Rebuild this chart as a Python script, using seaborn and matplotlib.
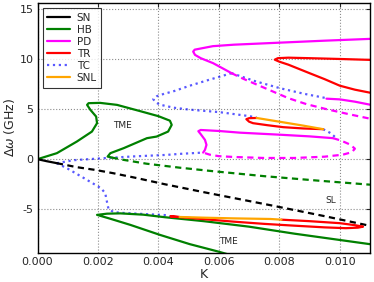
import numpy as np
import matplotlib
matplotlib.use("Agg")
import matplotlib.pyplot as plt
import seaborn as sns
from matplotlib.lines import Line2D

# ==========================================
# DATA  (K values given in units of 1e-3)
# ==========================================
sn_solid_k = np.array([0.0, 0.3, 0.64]) * 1e-3
sn_solid_y = [0.0, -0.2, -0.4]
sn_dash_k = np.array([0.64, 1.3, 1.9, 2.5, 3.3, 4.2, 5.5, 7.7, 9.5, 10.9]) * 1e-3
sn_dash_y = [-0.4, -0.8, -1.07, -1.4, -1.9, -2.5, -3.3, -4.6, -5.7, -6.6]

hb_up_k = np.array([0.0, 0.64, 1.3, 1.8, 1.97, 1.94, 1.75, 1.64, 1.69, 2.07, 2.63,
                    3.4, 4.0, 4.38, 4.44, 4.32, 3.94, 3.62, 2.85, 2.41, 2.32, 2.46]) * 1e-3
hb_up_y = [0.0, 0.6, 1.76, 2.76, 3.6, 4.26, 4.93, 5.43, 5.6, 5.63, 5.43,
           4.8, 4.3, 3.85, 3.43, 2.76, 2.26, 2.1, 1.1, 0.6, 0.26, 0.16]
hb_dash_k = np.array([2.46, 2.85, 3.6, 4.7, 5.8, 7.5, 9.3, 11.0]) * 1e-3
hb_dash_y = [0.16, -0.07, -0.45, -0.85, -1.2, -1.7, -2.15, -2.55]
hb_low_k = np.array([6.4, 5.98, 5.04, 4.05, 3.07, 2.4, 1.97, 2.3, 2.74, 3.5, 4.2,
                     5.5, 7.0, 8.5, 11.0]) * 1e-3
hb_low_y = [-9.6, -9.24, -8.5, -7.57, -6.57, -5.95, -5.57, -5.45, -5.42, -5.55, -5.8,
            -6.2, -6.75, -7.45, -8.5]

pd_up_k = np.array([6.42, 5.81, 5.4, 5.21, 5.15, 5.2, 5.37, 5.8, 6.5, 8.0, 9.5, 11.0]) * 1e-3
pd_up_y = [8.6, 9.6, 10.1, 10.43, 10.76, 10.95, 11.05, 11.3, 11.45, 11.65, 11.85, 12.03]
pd_up_dash_k = np.array([6.42, 6.8, 7.3, 7.8, 8.3, 8.9, 9.56, 10.3, 11.0]) * 1e-3
pd_up_dash_y = [8.6, 8.05, 7.4, 6.75, 6.1, 5.5, 5.0, 4.5, 4.05]
pd_right_k = np.array([9.56, 10.0, 10.5, 11.0]) * 1e-3
pd_right_y = [6.05, 5.98, 5.75, 5.45]
pd_low_k = np.array([5.48, 5.54, 5.59, 5.54, 5.4, 5.32, 5.4, 6.0, 6.7, 8.0, 9.0, 9.78]) * 1e-3
pd_low_y = [0.66, 0.93, 1.43, 1.93, 2.5, 2.8, 2.92, 2.82, 2.65, 2.45, 2.28, 2.1]
pd_low_dash_k = np.array([9.78, 10.05, 10.35, 10.5, 10.4, 10.1, 9.5, 8.5, 7.5,
                          6.5, 6.0, 5.7, 5.48]) * 1e-3
pd_low_dash_y = [2.1, 1.85, 1.45, 1.05, 0.7, 0.45, 0.25, 0.12, 0.12,
                 0.22, 0.3, 0.45, 0.66]

tr_up_k = np.array([11.0, 10.0, 9.0, 8.3, 7.95, 7.85, 8.0, 8.3, 9.0, 9.5, 10.0, 10.5, 11.0]) * 1e-3
tr_up_y = [9.93, 10.02, 10.1, 10.15, 10.1, 9.95, 9.75, 9.45, 8.6, 8.0, 7.35, 6.95, 6.65]
tr_mid_k = np.array([7.25, 7.0, 6.91, 7.0, 7.13, 7.6, 8.13, 8.8, 9.45]) * 1e-3
tr_mid_y = [4.12, 4.1, 4.0, 3.75, 3.6, 3.4, 3.2, 3.07, 3.0]
tr_low_k = np.array([4.7, 4.4, 5.5, 6.5, 7.5, 8.5, 9.5, 10.2, 10.6, 10.77,
                     10.5, 10.0, 9.0, 8.07]) * 1e-3
tr_low_y = [-5.78, -5.72, -6.0, -6.25, -6.47, -6.65, -6.82, -6.9, -6.85, -6.75,
            -6.6, -6.4, -6.2, -6.05]

snl_mid_k = np.array([7.25, 8.0, 8.8, 9.45]) * 1e-3
snl_mid_y = [4.12, 3.75, 3.35, 3.0]
snl_low_k = np.array([4.7, 5.5, 6.5, 7.7, 8.07]) * 1e-3
snl_low_y = [-5.78, -5.85, -5.92, -5.98, -6.05]

tc_up_k = np.array([6.42, 5.59, 5.04, 4.49, 4.2, 3.95, 3.83, 3.9, 4.05, 4.5, 5.04,
                    6.03, 7.02, 7.25]) * 1e-3
tc_up_y = [8.6, 7.86, 7.35, 6.78, 6.55, 6.3, 6.0, 5.7, 5.45, 5.15, 4.95,
           4.7, 4.3, 4.15]
tc_right_k = np.array([6.42, 7.2, 8.02, 8.8, 9.56]) * 1e-3
tc_right_y = [8.6, 7.8, 7.1, 6.55, 6.1]
tc_mid_k = np.array([9.45, 9.7, 9.85]) * 1e-3
tc_mid_y = [3.0, 2.6, 2.2]
tc_zero_k = np.array([0.64, 1.2, 2.19, 3.2, 4.28, 4.71, 5.48]) * 1e-3
tc_zero_y = [-0.4, -0.1, 0.1, 0.28, 0.43, 0.53, 0.66]
tc_low_k = np.array([0.64, 1.0, 1.45, 2.1, 2.24, 2.3, 2.35, 2.51, 2.74, 3.5, 4.28, 4.4]) * 1e-3
tc_low_y = [-0.4, -0.95, -1.74, -2.9, -3.4, -4.3, -5.0, -5.28, -5.36, -5.48, -5.6, -5.72]

legend_labels = ["SN", "HB", "PD", "TR", "TC", "SNL"]

# ==========================================
# STYLE
# ==========================================
sns.set_style("white")
plt.rcParams["font.family"] = ["DejaVu Sans"]
plt.rcParams["mathtext.fontset"] = "dejavusans"
plt.rcParams["axes.unicode_minus"] = False

colors = {"SN": "black", "HB": "green", "PD": "magenta",
          "TR": "red", "TC": "blue", "SNL": "orange"}
dash = (0, (2.8, 2.0))

fig = plt.figure(figsize=(3.74, 2.82), dpi=100)
ax = fig.add_axes([0.1003, 0.104, 0.889, 0.8865])


def draw(k, y, kind, ls="-", lw=1.6, alpha=1.0):
    sns.lineplot(x=k, y=y, sort=False, estimator=None, color=colors[kind],
                 linestyle=ls, lw=lw, alpha=alpha, ax=ax)


# TC first so the solid curves sit on top
for k, y in [(tc_up_k, tc_up_y), (tc_right_k, tc_right_y), (tc_mid_k, tc_mid_y),
             (tc_zero_k, tc_zero_y), (tc_low_k, tc_low_y)]:
    draw(k, y, "TC", ls=":", lw=1.6, alpha=0.65)

draw(hb_up_k, hb_up_y, "HB")
draw(hb_dash_k, hb_dash_y, "HB", ls=dash)
draw(hb_low_k, hb_low_y, "HB")

draw(sn_solid_k, sn_solid_y, "SN")
draw(sn_dash_k, sn_dash_y, "SN", ls=dash)

draw(pd_up_k, pd_up_y, "PD")
draw(pd_up_dash_k, pd_up_dash_y, "PD", ls=dash)
draw(pd_right_k, pd_right_y, "PD")
draw(pd_low_k, pd_low_y, "PD")
draw(pd_low_dash_k, pd_low_dash_y, "PD", ls=dash)

draw(tr_up_k, tr_up_y, "TR")
draw(tr_mid_k, tr_mid_y, "TR")
draw(tr_low_k, tr_low_y, "TR")
draw(snl_mid_k, snl_mid_y, "SNL")
draw(snl_low_k, snl_low_y, "SNL")

ax.text(2.82e-3, 3.33, "TME", fontsize=6.5, ha="center", va="center")
ax.text(6.32e-3, -8.24, "TME", fontsize=6.5, ha="center", va="center")
ax.text(9.69e-3, -4.15, "SL", fontsize=6.5, ha="center", va="center")

ax.set_xlim(0, 0.011)
ax.set_ylim(-9.35, 15.65)
ax.set_xticks([0.0, 0.002, 0.004, 0.006, 0.008, 0.010])
ax.set_xticklabels(["0.000", "0.002", "0.004", "0.006", "0.008", "0.010"])
ax.set_yticks([-5, 0, 5, 10, 15])
ax.tick_params(labelsize=8, direction="in", length=3, top=True, right=True, pad=3)
ax.grid(True, color="0.55", ls=":", lw=0.8)
for s in ax.spines.values():
    s.set_color("black")
    s.set_linewidth(1.0)
ax.set_xlabel("K", fontsize=9, labelpad=1)
ax.set_ylabel(r"$\Delta\omega$ (GHz)", fontsize=9, labelpad=2)

handles = []
for lab in legend_labels:
    if lab == "TC":
        handles.append(Line2D([], [], color="blue", ls=":", lw=1.6, alpha=0.65))
    else:
        handles.append(Line2D([], [], color=colors[lab], lw=1.6))
leg = ax.legend(handles, legend_labels, loc="upper left", fontsize=7.5,
                labelspacing=0.2, handlelength=2.2, handletextpad=0.6,
                borderpad=0.45, borderaxespad=0.5, frameon=True, fancybox=False)
leg.get_frame().set_edgecolor("black")
leg.get_frame().set_linewidth(0.8)

fig.savefig("out.png", dpi=100)
